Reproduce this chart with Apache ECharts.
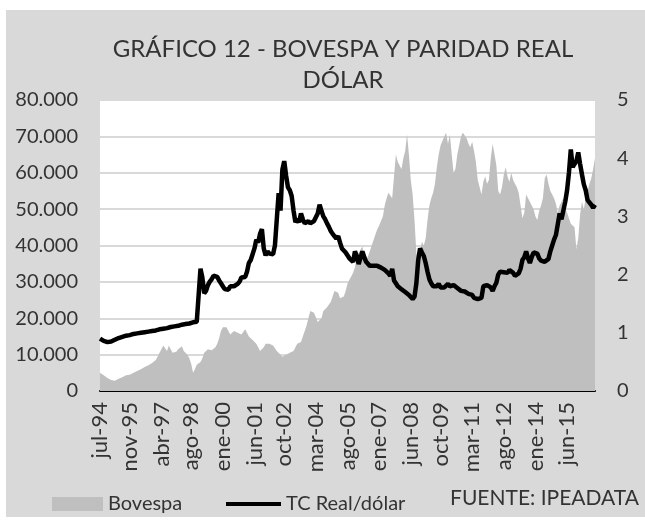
<!DOCTYPE html>
<html>
<head>
<meta charset="utf-8">
<script src="https://cdn.jsdelivr.net/npm/echarts@6/dist/echarts.min.js"></script>
<style>
  html, body { margin: 0; padding: 0; background: #fff; }
  #fondo { position: absolute; left: 6px; top: 10px; width: 639px; height: 507px; background: #d9d9d9; }
  #grafico { position: absolute; left: 0; top: 0; width: 645px; height: 520px; }
</style>
</head>
<body>
<div id="fondo"></div>
<div id="grafico"></div>
<script>
// meses jul-94 .. sep-16 (serie mensual)
var mesesEs = ["ene", "feb", "mar", "abr", "may", "jun", "jul", "ago", "sep", "oct", "nov", "dic"];
var categorias = [];
for (var a = 1994; a <= 2016; a++) {
  for (var m = 0; m < 12; m++) {
    if (a === 1994 && m < 6) continue;
    if (a === 2016 && m > 8) continue;
    categorias.push(mesesEs[m] + "-" + String(a).slice(2));
  }
}

// etiquetas visibles del eje x
var etiquetasX = ["jul-94", "nov-95", "abr-97", "ago-98", "ene-00", "jun-01", "oct-02", "mar-04",
  "ago-05", "ene-07", "jun-08", "oct-09", "mar-11", "ago-12", "ene-14", "jun-15"];

// Bovespa (puntos)
var bovespa = [
  5000, 4600, 4300, 3900, 3600, 3400,
  3000, 2600, 2800, 3100, 3400, 3600, 3800, 4000, 4300, 4400, 4500, 4700,
  5000, 5300, 5500, 5800, 6000, 6300, 6600, 6800, 7100, 7400, 7700, 8000,
  8500, 9500, 10500, 11500, 12500, 12000, 11000, 12500, 11500, 10500, 10000, 10800,
  11500, 12000, 12300, 11000, 10500, 10000, 9000, 7500, 5000, 6000, 7200, 6800,
  8000, 9000, 10500, 11000, 11500, 11000, 11200, 11500, 12000, 13000, 14500, 16500,
  17500, 18000, 17500, 16500, 15500, 15500, 16500, 16800, 16000, 15500, 15500, 16000,
  17000, 16500, 15000, 14500, 14000, 13500, 13000, 12000, 11000, 10500, 12000, 13000,
  13500, 13000, 13500, 12500, 12000, 11000, 10500, 10000, 9400, 9000, 10000, 10500,
  10500, 10000, 11000, 12000, 13000, 13000, 13500, 15000, 16500, 18000, 20000, 22000,
  22500, 21500, 21000, 19000, 18500, 20000, 22000, 22500, 23000, 23500, 24500, 26000,
  27500, 27800, 27000, 25500, 25000, 26000, 27500, 29500, 30600, 31500, 32500, 34000,
  37000, 38000, 37500, 39700, 37000, 36000, 37000, 36500, 40000, 41500, 43000, 44500,
  45500, 46000, 48000, 51000, 53000, 54500, 55000, 53000, 59000, 65000, 63000, 62000,
  61000, 64000, 66000, 70500, 65000, 58000, 54000, 47000, 38000, 35500, 38500, 41000,
  40000, 42000, 47000, 51000, 53000, 54500, 57000, 61500, 65000, 67500, 68000, 70000,
  71000, 68000, 70500, 65000, 60000, 61000, 65000, 67500, 70000, 71000, 71500, 69500,
  68000, 67000, 68500, 66000, 63000, 58000, 56000, 54000, 57500, 59000, 57000, 58000,
  64000, 68000, 65000, 62000, 55000, 54000, 56000, 59500, 61500, 59000, 57500, 60000,
  58000, 57000, 56000, 54500, 51000, 47500, 49000, 54000, 53000, 52000, 51500, 50000,
  48000, 47000, 49500, 51000, 53000, 58500, 59500, 57000, 55000, 54000, 53000, 51500,
  49000, 51000, 50500, 53000, 50000, 49000, 47500, 46000, 46500, 45000, 39000, 42000,
  48500, 52000, 50000, 53000, 55000, 57000, 58500, 61000, 64000
];

// TC Real/dólar
var tcReal = [
  0.90, 0.88, 0.86, 0.84, 0.84, 0.85,
  0.85, 0.86, 0.88, 0.90, 0.91, 0.92, 0.93, 0.94, 0.95, 0.96, 0.96, 0.97,
  0.98, 0.98, 0.99, 0.99, 1.00, 1.00, 1.01, 1.01, 1.02, 1.02, 1.03, 1.04,
  1.04, 1.05, 1.06, 1.06, 1.07, 1.08, 1.08, 1.09, 1.10, 1.10, 1.11, 1.12,
  1.12, 1.13, 1.14, 1.14, 1.15, 1.16, 1.16, 1.17, 1.18, 1.19, 1.19, 1.21,
  2.10, 1.95, 1.68, 1.72, 1.82, 1.88, 1.92, 1.98, 2.00, 1.96, 1.90, 1.85,
  1.80, 1.75, 1.73, 1.74, 1.80, 1.82, 1.80, 1.80, 1.84, 1.88, 1.95, 1.96,
  1.96, 2.05, 2.20, 2.25, 2.35, 2.45, 2.60, 2.55, 2.70, 2.78, 2.45, 2.33,
  2.40, 2.36, 2.33, 2.35, 2.50, 2.95, 3.40, 3.10, 3.80, 3.95, 3.70, 3.50,
  3.45, 3.35, 3.10, 2.90, 2.95, 2.90, 3.05, 2.95, 2.88, 2.85, 2.92, 2.88,
  2.88, 2.92, 2.90, 3.05, 3.20, 3.10, 3.00, 2.95, 2.88, 2.82, 2.75, 2.70,
  2.68, 2.62, 2.66, 2.55, 2.45, 2.42, 2.38, 2.36, 2.28, 2.26, 2.22, 2.40,
  2.32, 2.18, 2.15, 2.40, 2.30, 2.22, 2.20, 2.15, 2.18, 2.15, 2.16, 2.15,
  2.14, 2.12, 2.10, 2.08, 2.05, 2.02, 1.98, 2.10, 1.90, 1.85, 1.80, 1.78,
  1.75, 1.72, 1.70, 1.68, 1.65, 1.62, 1.58, 1.62, 1.85, 2.25, 2.45, 2.38,
  2.32, 2.20, 2.05, 1.92, 1.85, 1.80, 1.77, 1.80, 1.84, 1.78, 1.76, 1.78,
  1.80, 1.84, 1.80, 1.77, 1.82, 1.80, 1.77, 1.76, 1.72, 1.69, 1.71, 1.70,
  1.67, 1.67, 1.65, 1.60, 1.62, 1.58, 1.56, 1.60, 1.80, 1.78, 1.82, 1.85,
  1.78, 1.72, 1.80, 1.86, 2.00, 2.05, 2.04, 2.04, 2.03, 2.03, 2.08, 2.08,
  2.03, 1.98, 2.00, 2.02, 2.10, 2.25, 2.30, 2.40, 2.28, 2.20, 2.30, 2.38,
  2.38, 2.36, 2.28, 2.24, 2.22, 2.22, 2.23, 2.27, 2.40, 2.50, 2.60, 2.68,
  2.70, 3.05, 2.95, 3.10, 3.25, 3.45, 3.75, 4.15, 3.85, 3.85, 3.95, 4.10,
  3.90, 3.72, 3.55, 3.45, 3.28, 3.25, 3.20, 3.15, 3.20
];

var fuente = "Lato, 'Noto Sans', sans-serif";
var colorTexto = "#333";

var myChart = echarts.init(document.getElementById("grafico"));
var option = {
  animation: false,
  title: {
    text: "GRÁFICO 12 - BOVESPA Y PARIDAD REAL\nDÓLAR",
    left: 338,
    top: 29,
    textAlign: "center",
    textStyle: { fontFamily: fuente, fontSize: 24, fontWeight: "normal", color: colorTexto, lineHeight: 31 }
  },
  grid: {
    left: 100, right: 50, top: 100, bottom: 129,
    show: true, backgroundColor: "#fff", borderWidth: 0
  },
  legend: [
    {
      left: 47, top: 489,
      itemWidth: 51, itemHeight: 14,
      data: [{ name: "Bovespa", icon: "rect" }],
      textStyle: { fontFamily: fuente, fontSize: 20, color: colorTexto }
    },
    {
      left: 221, top: 489,
      itemWidth: 55, itemHeight: 4,
      data: [{ name: "TC Real/dólar", icon: "rect" }],
      textStyle: { fontFamily: fuente, fontSize: 20, color: colorTexto }
    }
  ],
  graphic: [{
    type: "text", left: 450, top: 488,
    style: { text: "FUENTE: IPEADATA", font: "21px " + fuente, fill: colorTexto }
  }],
  xAxis: {
    type: "category",
    data: categorias,
    boundaryGap: false,
    axisLine: { lineStyle: { color: "#000", width: 2 } },
    axisTick: { show: false },
    axisLabel: {
      rotate: 90, margin: 11,
      interval: function (i, v) { return etiquetasX.indexOf(v) >= 0; },
      fontFamily: fuente, fontSize: 22, color: colorTexto
    }
  },
  yAxis: [
    {
      type: "value", min: 0, max: 80000, interval: 10000,
      axisLabel: {
        margin: 22, fontFamily: fuente, fontSize: 20, color: colorTexto,
        formatter: function (v) { return v === 0 ? "0" : (v / 1000) + ".000"; }
      },
      splitLine: { lineStyle: { color: "#d9d9d9", width: 2 } }
    },
    {
      type: "value", min: 0, max: 5, interval: 1,
      axisLabel: { margin: 22, fontFamily: fuente, fontSize: 20, color: colorTexto },
      splitLine: { show: false }
    }
  ],
  series: [
    {
      name: "Bovespa", type: "line", data: bovespa,
      symbol: "none", lineStyle: { width: 0 },
      itemStyle: { color: "#bfbfbf" },
      areaStyle: { color: "#bfbfbf", opacity: 1 }
    },
    {
      name: "TC Real/dólar", type: "line", yAxisIndex: 1, data: tcReal,
      symbol: "none", itemStyle: { color: "#000" },
      lineStyle: { color: "#000", width: 4.5 }
    }
  ]
};
myChart.setOption(option);
</script>
</body>
</html>
